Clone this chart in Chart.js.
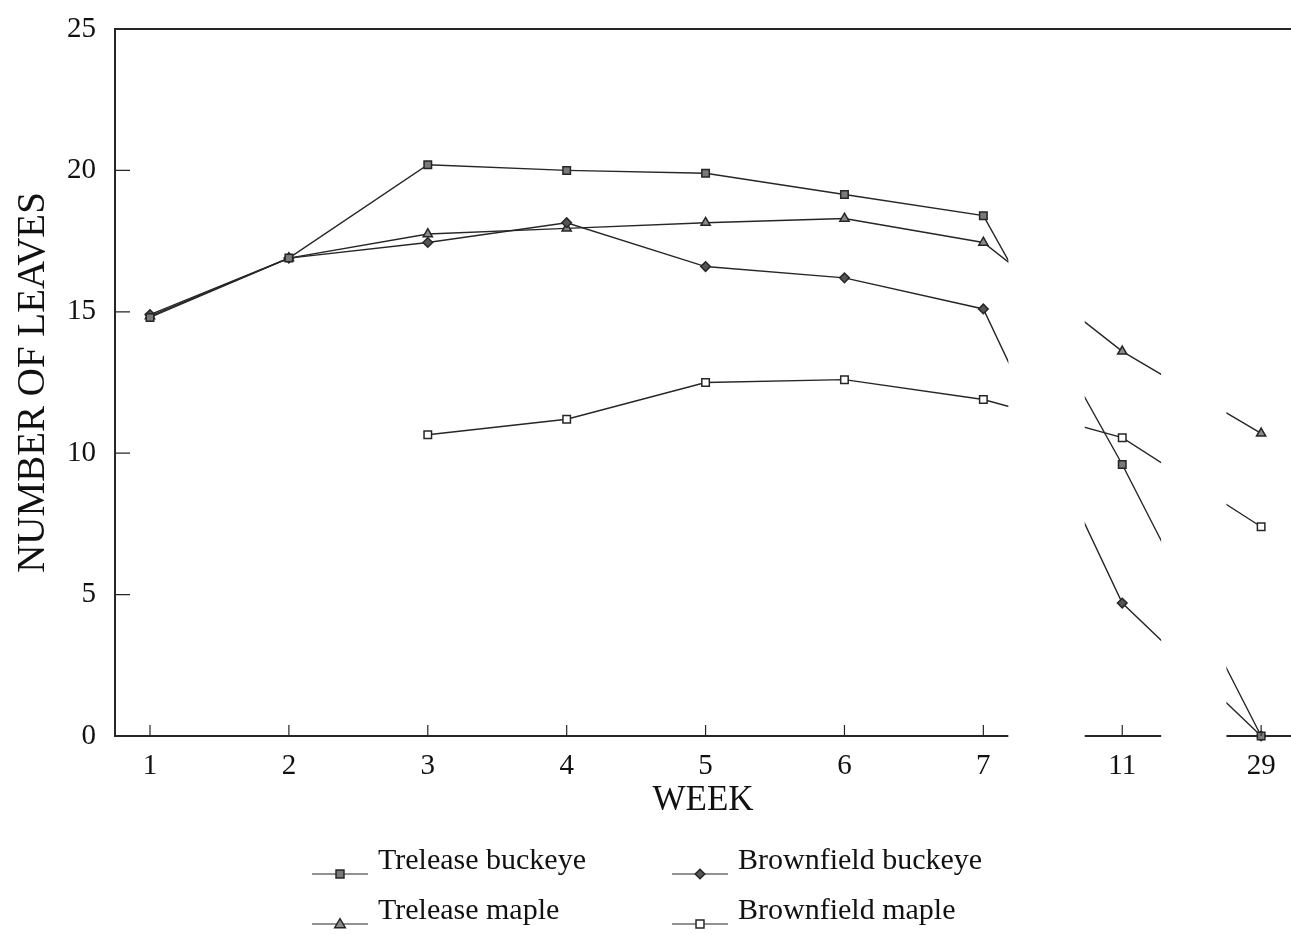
<!DOCTYPE html>
<html lang="en">
<head>
  <meta charset="UTF-8">
  <title>Number of leaves by week</title>
  <script src="https://cdn.jsdelivr.net/npm/chart.js"></script>
  <style>
    body {
      margin: 0;
      background: #fff;
    }
    .wrap {
      position: relative;
      width: 1291px;
      height: 935px;
    }
  </style>
</head>
<body>
  <div class="wrap"><canvas id="leaves"></canvas></div>

  <script>
    // data
    const weeks = ['1', '2', '3', '4', '5', '6', '7', '11', '29'];
    const treleaseBuckeye   = [14.8, 16.9, 20.2, 20.0, 19.9, 19.15, 18.4, 9.6, 0];
    const brownfieldBuckeye = [14.9, 16.9, 17.45, 18.15, 16.6, 16.2, 15.1, 4.7, 0];
    const treleaseMaple     = [14.85, 16.9, 17.75, 17.95, 18.15, 18.3, 17.45, 13.6, 10.7];
    const brownfieldMaple   = [null, null, 10.65, 11.2, 12.5, 12.6, 11.9, 10.55, 7.4];
    const yTicks = [0, 5, 10, 15, 20, 25];

    const ink = '#262626';
    const serif = '"Liberation Serif", "DejaVu Serif", serif';

    const toPoints = arr => arr.map((v, i) => ({ x: i, y: v }));

    function series(label, values, style, fill) {
      return {
        label: label,
        data: toPoints(values),
        borderColor: ink,
        borderWidth: 1.4,
        pointStyle: style,
        pointRadius: style === 'rectRot' ? 4.8 : 5.3,
        pointBackgroundColor: fill,
        pointBorderColor: ink,
        pointBorderWidth: 1.5,
        tension: 0,
        spanGaps: false,
        clip: 10
      };
    }

    // broken-axis gaps (in x units) between 7|11 and 11|29
    const breaks = [[6.18, 6.73], [7.28, 7.75]];

    const brokenAxis = {
      id: 'brokenAxis',
      afterDatasetsDraw(chart) {
        const { ctx, chartArea, scales } = chart;
        ctx.save();
        ctx.fillStyle = '#fff';
        breaks.forEach(([a, b]) => {
          const x0 = scales.x.getPixelForValue(a);
          const x1 = scales.x.getPixelForValue(b);
          ctx.fillRect(x0, chartArea.top + 2, x1 - x0, chartArea.bottom - chartArea.top + 4);
        });
        ctx.restore();
      },
      afterDraw(chart) {
        const { ctx, chartArea, scales } = chart;
        ctx.save();
        ctx.strokeStyle = ink;
        // top frame line
        ctx.lineWidth = 2;
        ctx.beginPath();
        ctx.moveTo(chartArea.left, chartArea.top);
        ctx.lineTo(chartArea.right, chartArea.top);
        ctx.stroke();
        // inward tick marks
        ctx.lineWidth = 1.2;
        ctx.beginPath();
        scales.y.ticks.forEach(t => {
          if (t.value === 0 || t.value === 25) return;
          const y = scales.y.getPixelForValue(t.value);
          ctx.moveTo(chartArea.left, y);
          ctx.lineTo(chartArea.left + 15, y);
        });
        scales.x.ticks.forEach(t => {
          const x = scales.x.getPixelForValue(t.value);
          ctx.moveTo(x, chartArea.bottom);
          ctx.lineTo(x, chartArea.bottom - 11);
        });
        ctx.stroke();
        ctx.restore();
      }
    };

    function drawMarker(ctx, ds, x, y) {
      const r = ds.pointRadius;
      ctx.fillStyle = ds.pointBackgroundColor;
      ctx.strokeStyle = ds.pointBorderColor;
      ctx.lineWidth = ds.pointBorderWidth;
      ctx.beginPath();
      if (ds.pointStyle === 'rect') {
        ctx.rect(x - r * 0.75, y - r * 0.75, r * 1.5, r * 1.5);
      } else if (ds.pointStyle === 'rectRot') {
        ctx.moveTo(x, y - r);
        ctx.lineTo(x + r, y);
        ctx.lineTo(x, y + r);
        ctx.lineTo(x - r, y);
        ctx.closePath();
      } else {
        ctx.moveTo(x, y - r);
        ctx.lineTo(x + r, y + r * 0.7);
        ctx.lineTo(x - r, y + r * 0.7);
        ctx.closePath();
      }
      ctx.fill();
      ctx.stroke();
    }

    // two-column legend under the axis title
    const legendGrid = {
      id: 'legendGrid',
      afterDraw(chart) {
        const { ctx } = chart;
        const cols = [312, 672];
        const rows = [869, 919];
        ctx.save();
        ctx.font = '30px ' + serif;
        ctx.textBaseline = 'alphabetic';
        chart.data.datasets.forEach((ds, i) => {
          const x = cols[i % 2];
          const y = rows[Math.floor(i / 2)];
          ctx.strokeStyle = ink;
          ctx.lineWidth = 1.2;
          ctx.beginPath();
          ctx.moveTo(x, y + 5);
          ctx.lineTo(x + 56, y + 5);
          ctx.stroke();
          drawMarker(ctx, ds, x + 28, y + 5);
          ctx.fillStyle = '#111';
          ctx.fillText(ds.label, x + 66, y);
        });
        ctx.restore();
      }
    };

    new Chart(document.getElementById('leaves'), {
      type: 'line',
      data: {
        datasets: [
          series('Trelease buckeye', treleaseBuckeye, 'rect', '#7a7a7a'),
          series('Brownfield buckeye', brownfieldBuckeye, 'rectRot', '#555'),
          series('Trelease maple', treleaseMaple, 'triangle', '#8a8a8a'),
          series('Brownfield maple', brownfieldMaple, 'rect', '#fff')
        ]
      },
      options: {
        responsive: true,
        maintainAspectRatio: false,
        animation: false,
        layout: {
          autoPadding: false,
          padding: { top: 29, right: 0, bottom: 113, left: 0 }
        },
        plugins: {
          legend: { display: false },
          tooltip: { enabled: false }
        },
        scales: {
          x: {
            type: 'linear',
            min: -0.252,
            max: 8.215,
            afterBuildTicks: s => { s.ticks = weeks.map((w, i) => ({ value: i })); },
            afterFit: s => {
              s.height = 86;
              s.paddingLeft = 0;
              s.paddingRight = 0;
            },
            grid: { display: false, drawTicks: true, tickLength: 13, tickColor: 'rgba(0,0,0,0)' },
            border: { display: true, color: ink, width: 2 },
            ticks: {
              padding: 0,
              color: '#111',
              font: { family: serif, size: 29 },
              callback: v => weeks[v]
            },
            title: {
              display: true,
              text: 'WEEK',
              color: '#111',
              font: { family: serif, size: 35 },
              padding: { top: 0, bottom: 0 }
            }
          },
          y: {
            min: 0,
            max: 25,
            afterBuildTicks: s => { s.ticks = yTicks.map(v => ({ value: v })); },
            afterFit: s => {
              s.width = 115;
              s.paddingTop = 0;
              s.paddingBottom = 0;
            },
            grid: { display: false, drawTicks: false },
            border: { display: true, color: ink, width: 2 },
            ticks: {
              padding: 19,
              color: '#111',
              font: { family: serif, size: 29 }
            },
            title: {
              display: true,
              text: 'NUMBER OF LEAVES',
              color: '#111',
              font: { family: serif, size: 39 },
              padding: { top: 10, bottom: 0 }
            }
          }
        }
      },
      plugins: [brokenAxis, legendGrid]
    });
  </script>
</body>
</html>
